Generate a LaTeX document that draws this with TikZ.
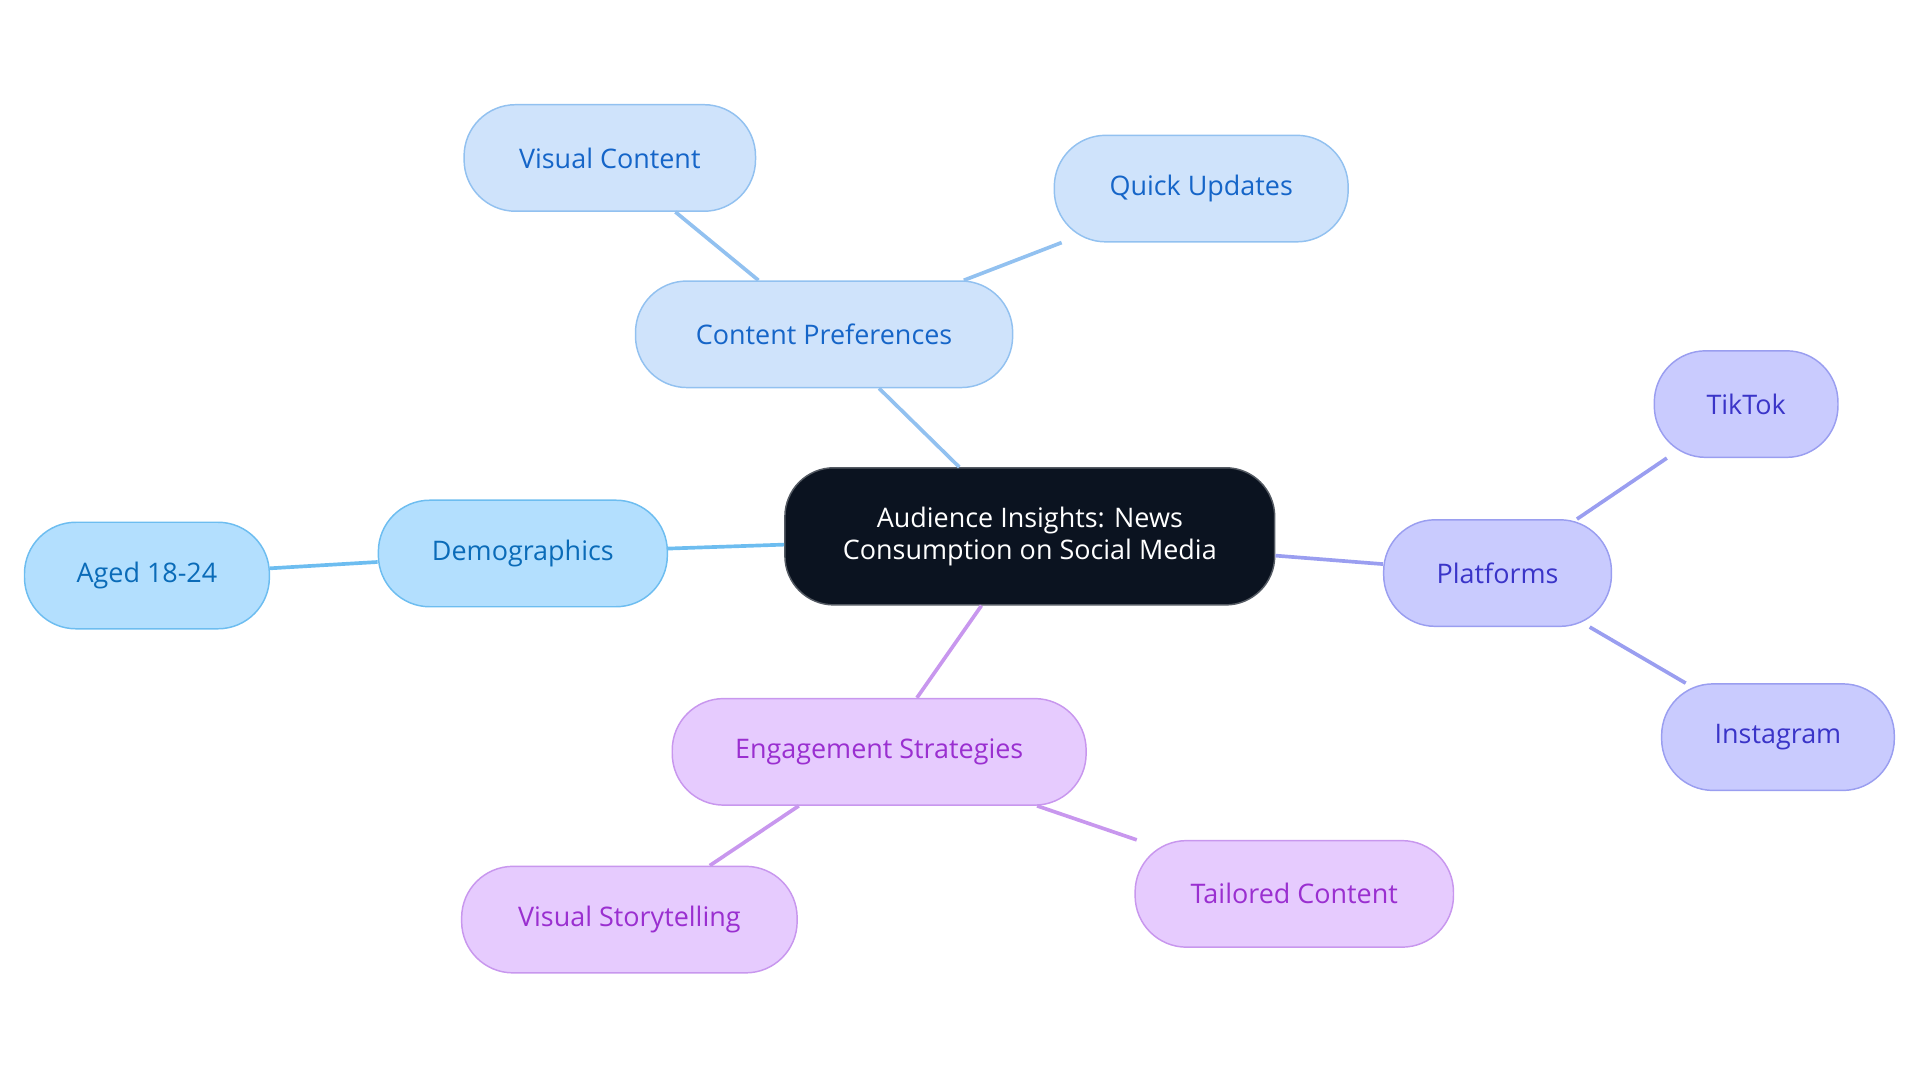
\documentclass[tikz,border=0pt]{standalone}
\usepackage{fontspec}
\setmainfont{Open Sans}
\definecolor{cpF}{HTML}{CFE3FB}\definecolor{cpD}{HTML}{92C1F0}\definecolor{cpT}{HTML}{1565C8}
\definecolor{dmF}{HTML}{B3DFFE}\definecolor{dmD}{HTML}{6DBDF0}\definecolor{dmT}{HTML}{0A6BB8}
\definecolor{plF}{HTML}{C9CBFE}\definecolor{plD}{HTML}{9A9EF0}\definecolor{plT}{HTML}{3A34C8}
\definecolor{egF}{HTML}{E6CBFE}\definecolor{egD}{HTML}{C897EE}\definecolor{egT}{HTML}{9A2FD0}
\definecolor{ctr}{HTML}{0B1320}
\tikzset{
 pill/.style={rounded corners=42pt,minimum height=87pt,line width=1.2pt,font=\fontsize{22}{26}\selectfont,inner sep=0pt},
 cp/.style={pill,fill=cpF,draw=cpD,text=cpT},
 dm/.style={pill,fill=dmF,draw=dmD,text=dmT},
 pl/.style={pill,fill=plF,draw=plD,text=plT},
 eg/.style={pill,fill=egF,draw=egD,text=egT},
 edge/.style={line width=3pt}
}
\begin{document}
\begin{tikzpicture}[x=1pt,y=-1pt]
\useasboundingbox (0,0) rectangle (1568,884);
\node[pill,fill=ctr,draw=ctr!70,text=white,minimum width=400pt,minimum height=112pt,rounded corners=40pt,align=center,font=\fontsize{22}{26}\selectfont] (c) at (841,438) {Audience Insights: News\\Consumption on Social Media};
\node[cp,minimum width=308pt] (cp) at (673,273) {Content Preferences};
\node[cp,minimum width=238pt] (vc) at (498,129) {Visual Content};
\node[cp,minimum width=240pt] (qu) at (981,154) {Quick Updates};
\node[dm,minimum width=236pt] (dm) at (427,452) {Demographics};
\node[dm,minimum width=200pt] (ag) at (120,470) {Aged 18-24};
\node[pl,minimum width=186pt] (pl) at (1223,468) {Platforms};
\node[pl,minimum width=150pt] (tt) at (1426,330) {TikTok};
\node[pl,minimum width=190pt] (ig) at (1452,602) {Instagram};
\node[eg,minimum width=338pt] (eg) at (718,614) {Engagement Strategies};
\node[eg,minimum width=274pt] (vs) at (514,751) {Visual Storytelling};
\node[eg,minimum width=260pt] (tc) at (1057,730) {Tailored Content};
\begin{scope}[on background layer/.style={}]
\end{scope}
\draw[edge,cpD] (c) -- (cp);
\draw[edge,cpD] (cp) -- (vc);
\draw[edge,cpD] (cp) -- (qu);
\draw[edge,dmD] (c) -- (dm);
\draw[edge,dmD] (dm) -- (ag);
\draw[edge,plD] (c) -- (pl);
\draw[edge,plD] (pl) -- (tt);
\draw[edge,plD] (pl) -- (ig);
\draw[edge,egD] (c) -- (eg);
\draw[edge,egD] (eg) -- (vs);
\draw[edge,egD] (eg) -- (tc);
\end{tikzpicture}
\end{document}
